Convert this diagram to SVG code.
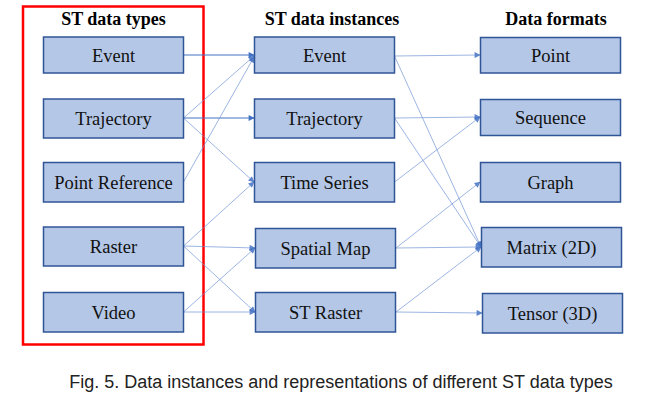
<svg xmlns="http://www.w3.org/2000/svg" width="647" height="405" viewBox="0 0 647 405">
  <style>
    .box { fill: #B4C7E7; stroke: #2F5597; stroke-width: 1.5; }
    .lbl { font-family: "Liberation Serif", "Times New Roman", serif; font-size: 18.5px; fill: #111; text-anchor: middle; }
    .ttl { font-family: "Liberation Serif", "Times New Roman", serif; font-size: 18px; font-weight: bold; fill: #000; text-anchor: middle; }
    .cap { font-family: "Liberation Sans", Arial, sans-serif; font-size: 18px; fill: #222; text-anchor: middle; }
    .main { stroke: #4472C4; stroke-width: 1.2; fill: none; marker-end: url(#arr); }
    .thin { stroke: #6F93D6; stroke-width: 0.8; fill: none; opacity: 0.85; marker-end: url(#arr); }
  </style>
  <defs>
    <marker id="arr" viewBox="0 0 10 10" refX="9" refY="5" markerWidth="7" markerHeight="6" markerUnits="userSpaceOnUse" orient="auto">
      <path d="M0,0 L10,5 L0,10 z" fill="#4472C4"/>
    </marker>
  </defs>

  <rect width="647" height="405" fill="#fff"/>

  <!-- outline around the ST data type column -->
  <rect x="23" y="6.5" width="180.5" height="338" fill="none" stroke="#FF0000" stroke-width="2.5"/>

  <!-- column headings -->
  <text class="ttl" x="113.5" y="25">ST data types</text>
  <text class="ttl" x="332" y="25">ST data instances</text>
  <text class="ttl" x="556" y="25">Data formats</text>

  <!-- connectors -->
  <g id="connectors">
    <line class="main" x1="183.5" y1="55" x2="254" y2="55"/>
    <line class="thin" x1="183.5" y1="118" x2="254" y2="56"/>
    <line class="main" x1="183.5" y1="118" x2="254" y2="118"/>
    <line class="thin" x1="183.5" y1="118" x2="254" y2="182"/>
    <line class="thin" x1="183.5" y1="182" x2="254" y2="57"/>
    <line class="thin" x1="183.5" y1="246" x2="254" y2="182"/>
    <line class="thin" x1="183.5" y1="246" x2="255" y2="248"/>
    <line class="thin" x1="183.5" y1="246" x2="255" y2="312"/>
    <line class="thin" x1="183.5" y1="312" x2="255" y2="248"/>
    <line class="thin" x1="183.5" y1="312" x2="255" y2="312"/>

    <line class="thin" x1="394.5" y1="56" x2="480" y2="55"/>
    <line class="thin" x1="394.5" y1="56" x2="481" y2="247"/>
    <line class="thin" x1="394.5" y1="118" x2="480" y2="117"/>
    <line class="thin" x1="394.5" y1="118" x2="481" y2="247"/>
    <line class="thin" x1="394.5" y1="182" x2="480" y2="117"/>
    <line class="thin" x1="396" y1="248" x2="480" y2="182"/>
    <line class="thin" x1="396" y1="248" x2="481" y2="247"/>
    <line class="thin" x1="396" y1="312" x2="481" y2="247"/>
    <line class="thin" x1="396" y1="312" x2="482" y2="313"/>
  </g>

  <!-- ST data types -->
  <g id="type-event"><rect class="box" x="43.5" y="37" width="140" height="36"/><text class="lbl" x="113.5" y="61.5">Event</text></g>
  <g id="type-trajectory"><rect class="box" x="43.5" y="99" width="140" height="39"/><text class="lbl" x="113.5" y="124.5">Trajectory</text></g>
  <g id="type-point-reference"><rect class="box" x="43.5" y="162.5" width="140" height="39.5"/><text class="lbl" x="113.5" y="188.5">Point Reference</text></g>
  <g id="type-raster"><rect class="box" x="43.5" y="227" width="140" height="39"/><text class="lbl" x="113.5" y="252.5">Raster</text></g>
  <g id="type-video"><rect class="box" x="43.5" y="292.5" width="140" height="39.5"/><text class="lbl" x="113.5" y="318.5">Video</text></g>

  <!-- ST data instances -->
  <g id="inst-event"><rect class="box" x="254.5" y="37" width="140" height="36"/><text class="lbl" x="324.5" y="61.5">Event</text></g>
  <g id="inst-trajectory"><rect class="box" x="254.5" y="99" width="140" height="39"/><text class="lbl" x="324.5" y="124.5">Trajectory</text></g>
  <g id="inst-time-series"><rect class="box" x="254.5" y="162.5" width="140" height="39.5"/><text class="lbl" x="324.5" y="188.5">Time Series</text></g>
  <g id="inst-spatial-map"><rect class="box" x="255.5" y="228.5" width="140" height="39.5"/><text class="lbl" x="325.5" y="254.5">Spatial Map</text></g>
  <g id="inst-st-raster"><rect class="box" x="255.5" y="292.5" width="140" height="39.5"/><text class="lbl" x="325.5" y="318.5">ST Raster</text></g>

  <!-- Data formats -->
  <g id="fmt-point"><rect class="box" x="480.5" y="37.5" width="140" height="35.5"/><text class="lbl" x="550.5" y="61.5">Point</text></g>
  <g id="fmt-sequence"><rect class="box" x="480.5" y="99.5" width="140" height="36"/><text class="lbl" x="550.5" y="123.5">Sequence</text></g>
  <g id="fmt-graph"><rect class="box" x="480.5" y="162.5" width="140" height="39.5"/><text class="lbl" x="550.5" y="188.5">Graph</text></g>
  <g id="fmt-matrix"><rect class="box" x="481.5" y="227.5" width="140" height="39.5"/><text class="lbl" x="551.5" y="253.5">Matrix (2D)</text></g>
  <g id="fmt-tensor"><rect class="box" x="482.5" y="293.5" width="140" height="39.5"/><text class="lbl" x="552.5" y="319.5">Tensor (3D)</text></g>

  <text class="cap" x="341" y="388">Fig. 5. Data instances and representations of different ST data types</text>
</svg>
